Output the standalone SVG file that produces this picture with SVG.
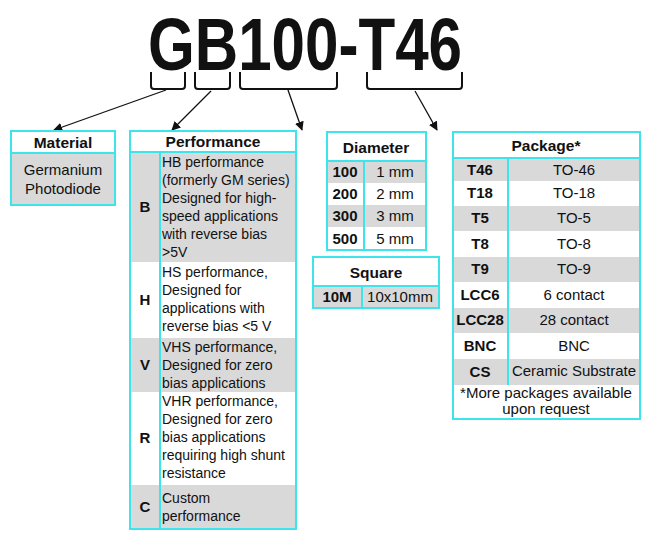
<svg xmlns="http://www.w3.org/2000/svg" width="651" height="540" viewBox="0 0 651 540">
<style>
text{font-family:"Liberation Sans",Arial,sans-serif;fill:#111}
.box{fill:#fff;stroke:#3ee3ec;stroke-width:2}
.g{fill:#d9d9d9}
.ln{stroke:#3ee3ec;stroke-width:2;fill:none}
.h{font-weight:bold;font-size:15.5px;text-anchor:middle}
.k{font-weight:bold;font-size:15px;text-anchor:middle}
.v{font-size:15px;text-anchor:middle}
.p{font-size:14px}
.br{fill:none;stroke:#111;stroke-width:2;stroke-linejoin:round}
.ar{stroke:#111;stroke-width:1.3;fill:none;marker-end:url(#a)}
</style>
<defs><marker id="a" viewBox="0 0 10 10" refX="9" refY="5" markerWidth="7" markerHeight="7" orient="auto"><path d="M0,0L10,5L0,10z" fill="#111"/></marker></defs>
<text x="148" y="70" font-size="74" font-weight="bold" textLength="314" lengthAdjust="spacingAndGlyphs">GB100-T46</text>
<g id="connectors">
<path class="br" d="M151,72V86Q151,89 154,89H182Q185,89 185,86V72M195,72V86Q195,89 198,89H227Q230,89 230,86V72M240,72V86Q240,89 243,89H334Q337,89 337,86V72M367,72V86Q367,89 370,89H459Q462,89 462,86V72"/>
<line class="ar" x1="166" y1="90" x2="54" y2="130"/>
<line class="ar" x1="211" y1="91" x2="172" y2="130"/>
<line class="ar" x1="288" y1="90" x2="302" y2="130"/>
<line class="ar" x1="415" y1="91" x2="437" y2="130"/>
</g>
<g id="material">
<rect class="box" x="11" y="131" width="104" height="74"/>
<rect class="g" x="12" y="153" width="102" height="51"/>
<line class="ln" x1="11" y1="153" x2="115" y2="153"/>
<text class="h" x="63" y="148">Material</text>
<text class="v" x="63" y="175">Germanium</text>
<text class="v" x="63" y="194">Photodiode</text>
</g>
<g id="performance">
<rect class="box" x="130" y="131" width="166" height="398"/>
<rect class="g" x="131" y="152" width="164" height="110"/>
<rect class="g" x="131" y="338" width="164" height="54"/>
<rect class="g" x="131" y="485" width="164" height="43"/>
<line class="ln" x1="130" y1="152" x2="296" y2="152"/>
<line class="ln" x1="160" y1="152" x2="160" y2="529"/>
<text class="h" x="213" y="147">Performance</text>
<text class="k" x="145" y="212">B</text>
<text class="k" x="145" y="305">H</text>
<text class="k" x="145" y="370">V</text>
<text class="k" x="145" y="443">R</text>
<text class="k" x="145" y="512">C</text>
<g class="p">
<text x="162" y="167">HB performance</text>
<text x="162" y="185">(formerly GM series)</text>
<text x="162" y="203">Designed for high-</text>
<text x="162" y="221">speed applications</text>
<text x="162" y="239">with reverse bias</text>
<text x="162" y="257">&gt;5V</text>
<text x="162" y="277">HS performance,</text>
<text x="162" y="295">Designed for</text>
<text x="162" y="313">applications with</text>
<text x="162" y="331">reverse bias &lt;5 V</text>
<text x="162" y="352">VHS performance,</text>
<text x="162" y="370">Designed for zero</text>
<text x="162" y="388">bias applications</text>
<text x="162" y="406">VHR performance,</text>
<text x="162" y="424">Designed for zero</text>
<text x="162" y="442">bias applications</text>
<text x="162" y="460">requiring high shunt</text>
<text x="162" y="478">resistance</text>
<text x="162" y="503">Custom</text>
<text x="162" y="521">performance</text>
</g>
</g>
<g id="diameter">
<rect class="box" x="327" y="132" width="99" height="118"/>
<rect class="g" x="328" y="161" width="97" height="22"/>
<rect class="g" x="328" y="205" width="97" height="22"/>
<line class="ln" x1="327" y1="161" x2="426" y2="161"/>
<line class="ln" x1="364" y1="161" x2="364" y2="250"/>
<text class="h" x="376" y="153">Diameter</text>
<text class="k" x="345" y="177">100</text><text class="v" x="395" y="177">1 mm</text>
<text class="k" x="345" y="199">200</text><text class="v" x="395" y="199">2 mm</text>
<text class="k" x="345" y="221">300</text><text class="v" x="395" y="221">3 mm</text>
<text class="k" x="345" y="244">500</text><text class="v" x="395" y="244">5 mm</text>
</g>
<g id="square">
<rect class="box" x="313" y="257" width="126" height="51"/>
<rect class="g" x="314" y="286" width="124" height="21"/>
<line class="ln" x1="313" y1="286" x2="439" y2="286"/>
<line class="ln" x1="362" y1="286" x2="362" y2="308"/>
<text class="h" x="376" y="278">Square</text>
<text class="k" x="337" y="302">10M</text><text class="v" x="400" y="302">10x10mm</text>
</g>
<g id="package">
<rect class="box" x="453" y="132" width="187" height="287"/>
<rect class="g" x="454" y="158" width="185" height="23"/>
<rect class="g" x="454" y="206" width="185" height="25"/>
<rect class="g" x="454" y="257" width="185" height="25"/>
<rect class="g" x="454" y="308" width="185" height="25"/>
<rect class="g" x="454" y="359" width="185" height="26"/>
<line class="ln" x1="453" y1="158" x2="640" y2="158"/>
<line class="ln" x1="508" y1="158" x2="508" y2="385"/>
<text class="h" x="546" y="151">Package*</text>
<text class="k" x="480" y="175">T46</text><text class="v" x="574" y="175">TO-46</text>
<text class="k" x="480" y="198">T18</text><text class="v" x="574" y="198">TO-18</text>
<text class="k" x="480" y="223">T5</text><text class="v" x="574" y="223">TO-5</text>
<text class="k" x="480" y="249">T8</text><text class="v" x="574" y="249">TO-8</text>
<text class="k" x="480" y="274">T9</text><text class="v" x="574" y="274">TO-9</text>
<text class="k" x="480" y="300">LCC6</text><text class="v" x="574" y="300">6 contact</text>
<text class="k" x="480" y="325">LCC28</text><text class="v" x="574" y="325">28 contact</text>
<text class="k" x="480" y="351">BNC</text><text class="v" x="574" y="351">BNC</text>
<text class="k" x="480" y="377">CS</text><text class="v" x="574" y="376" font-size="11.5">Ceramic Substrate</text>
<text class="v" x="546" y="398" font-size="12">*More packages available</text>
<text class="v" x="546" y="414" font-size="12">upon request</text>
</g>
</svg>
